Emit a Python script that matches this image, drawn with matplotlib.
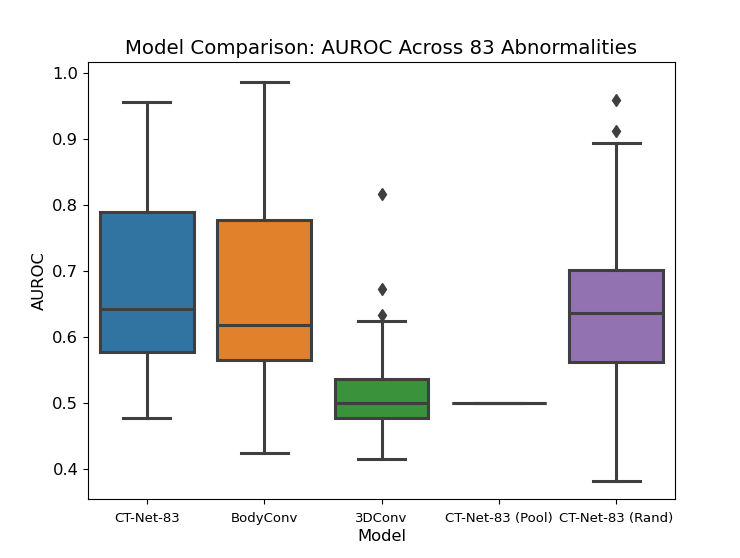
import matplotlib.pyplot as plt

models = ['CT-Net-83', 'BodyConv', '3DConv', 'CT-Net-83 (Pool)', 'CT-Net-83 (Rand)']
colors = ['#3274a1', '#e1812c', '#3a923a', '#c03d3e', '#9372b2']

# box stats
whislo = [0.477, 0.424, 0.415, 0.500, 0.383]
q1 = [0.577, 0.565, 0.477, 0.500, 0.562]
med = [0.642, 0.618, 0.500, 0.500, 0.637]
q3 = [0.789, 0.777, 0.537, 0.500, 0.701]
whishi = [0.955, 0.986, 0.625, 0.500, 0.894]
fliers = [[], [], [0.817, 0.672, 0.633], [], [0.959, 0.912]]

stats = []
for i, m in enumerate(models):
    stats.append({'label': m, 'whislo': whislo[i], 'q1': q1[i], 'med': med[i],
                  'q3': q3[i], 'whishi': whishi[i], 'fliers': fliers[i]})

edge = '#3f3f3f'
lw = 2.2

fig = plt.figure(figsize=(7.4, 5.58), dpi=100)
ax = fig.add_axes([0.1189, 0.1057, 0.7933, 0.7832])

bp = ax.bxp(stats, positions=range(len(models)), widths=0.8, patch_artist=True,
            boxprops=dict(edgecolor=edge, linewidth=lw),
            whiskerprops=dict(color=edge, linewidth=lw),
            capprops=dict(color=edge, linewidth=lw),
            medianprops=dict(color=edge, linewidth=lw),
            flierprops=dict(marker='d', markerfacecolor=edge, markeredgecolor=edge,
                            markersize=6, linestyle='none'),
            capwidths=0.4)
for patch, c in zip(bp['boxes'], colors):
    patch.set_facecolor(c)

ax.set_xlim(-0.5, len(models) - 0.5)
ax.set_ylim(0.355, 1.016)
ax.set_yticks([0.4, 0.5, 0.6, 0.7, 0.8, 0.9, 1.0])
ax.set_xticks(range(len(models)))
ax.set_xticklabels(models, fontsize=9.5)
ax.tick_params(axis='x', pad=6)
ax.tick_params(axis='y', labelsize=11.8)
ax.set_xlabel('Model', fontsize=11.8, labelpad=3)
ax.set_ylabel('AUROC', fontsize=11.8)
ax.set_title('Model Comparison: AUROC Across 83 Abnormalities', fontsize=14.2)

fig.savefig('out.png', dpi=100)
